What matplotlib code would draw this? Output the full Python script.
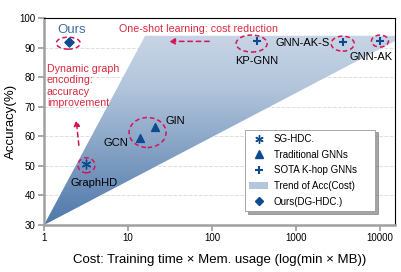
import numpy as np
import matplotlib
matplotlib.use("Agg")
import matplotlib.pyplot as plt
from matplotlib.patches import Ellipse, Polygon, Patch
from matplotlib.lines import Line2D
from matplotlib.colors import LinearSegmentedColormap
import matplotlib.transforms as mtrans

plt.rcParams['font.family'] = ['Liberation Sans', 'DejaVu Sans']

# data
sg_names = ['GraphHD']
sg_x = [3.16]
sg_y = [50.7]
trad_names = ['GCN', 'GIN']
trad_x = [13.9, 21.0]
trad_y = [59.5, 63.3]
sota_names = ['KP-GNN', 'GNN-AK-S', 'GNN-AK']
sota_x = [340, 3600, 10000]
sota_y = [92.2, 92.0, 92.2]
ours_x = [2.0]
ours_y = [92.0]
trend_x = [1, 16, 20000]   # trend triangle corners
trend_y = [30, 94, 94]
xticks = [1, 10, 100, 1000, 10000]
yticks = [30, 40, 50, 60, 70, 80, 90, 100]

blue = '#0d4a8f'
red = '#d4145a'
txtred = '#d9283f'

fig = plt.figure(figsize=(4.02, 2.72), dpi=100)
ax = fig.add_axes([44/402, 47/272, 351/402, 207/272])
ax.set_xscale('log')
ax.set_xlim(1, 15100)
ax.set_ylim(30, 100)
ax.set_xticks(xticks)
ax.set_xticklabels([str(t) for t in xticks])
ax.minorticks_off()
ax.set_yticks(yticks)
ax.tick_params(labelsize=7, color='#999999', length=4, width=1.2, pad=2)
for s in ['left', 'bottom']:
    ax.spines[s].set_color('#a0a0a0')
    ax.spines[s].set_linewidth(1.8)
for s in ['top', 'right']:
    ax.spines[s].set_color('black')
    ax.spines[s].set_linewidth(0.8)
ax.grid(axis='y', ls='--', color='#dddddd', lw=0.7)
ax.set_axisbelow(True)

# gradient trend triangle
tri = Polygon(list(zip(trend_x, trend_y)), closed=True, transform=ax.transData,
              facecolor='none', edgecolor='none')
ax.add_patch(tri)
cmap = LinearSegmentedColormap.from_list('tr', ['#e8eef5', '#b4c6dc', '#4e78aa'])
grad = np.linspace(0, 1, 256).reshape(-1, 1)
im = ax.imshow(grad, cmap=cmap, aspect='auto', extent=[0, 1, 0, 1],
               transform=ax.transAxes, origin='upper', zorder=1,
               vmin=-0.35, vmax=1)
im.set_clip_path(tri)
ax.set_xlim(1, 15100)
ax.set_ylim(30, 100)

ax.scatter(sg_x, sg_y, marker=(6, 2, 0), s=40, color=blue, lw=1.0, zorder=4)
ax.scatter(trad_x, trad_y, marker='^', s=32, color=blue, zorder=4)
ax.scatter(sota_x, sota_y, marker='+', s=40, color=blue, lw=1.5, zorder=4)
ax.scatter(ours_x, ours_y, marker='D', s=22, color=blue, zorder=4)

def ellipse(x, y, dx, dy, w, h):
    tr = fig.dpi_scale_trans + mtrans.ScaledTranslation(x, y, ax.transData)
    e = Ellipse((dx/100, dy/100), w/100, h/100, transform=tr, facecolor='none',
                edgecolor=red, ls=(0, (3, 2)), lw=1.1, zorder=5)
    ax.add_patch(e)

ellipse(ours_x[0], ours_y[0], -1, -1.5, 24, 12)
ellipse(sg_x[0], sg_y[0], 0.5, -1.5, 17, 15)
ellipse(trad_x[1], trad_y[1], -7.5, -6, 37, 30)
ellipse(sota_x[0], sota_y[0], -5, -2.5, 31, 17)
ellipse(sota_x[1], sota_y[1], 0, -2, 23, 15)
ellipse(sota_x[2], sota_y[2], 0, 0, 17, 12)

def label(txt, x, y, dx, dy, ha='center', **kw):
    ax.annotate(txt, (x, y), xytext=(dx, dy), textcoords='offset pixels',
                ha=ha, va='center', fontsize=8, zorder=6, **kw)

label('GraphHD', sg_x[0], sg_y[0], 8, -19)
label('GCN', trad_x[0], trad_y[0], -12, -5, ha='right')
label('GIN', trad_x[1], trad_y[1], 10, 6, ha='left')
label('KP-GNN', sota_x[0], sota_y[0], 0, -20)
label('GNN-AK-S', sota_x[1], sota_y[1], -13, -1, ha='right')
label('GNN-AK', sota_x[2], sota_y[2], -9, -16)
label('Ours', ours_x[0], ours_y[0], 2, 12, color='#3d6ea8')
ax.texts[-1].set_fontsize(9.5)

ax.text(7.8, 96.3, 'One-shot learning: cost reduction', color=txtred,
        fontsize=7.7, ha='left', va='center', zorder=6)
ax.text(1.085, 84.4, 'Dynamic graph\nencoding:\naccuracy\nimprovement',
        color=txtred, fontsize=7.7, ha='left', va='top', linespacing=1.15,
        zorder=6)
ax.annotate('', xy=(28.3, 92.1), xytext=(100, 92.1),
            arrowprops=dict(arrowstyle='-|>', color=red, lw=1.1,
                            ls=(0, (3, 2.5)), mutation_scale=9), zorder=6)
ax.annotate('', xy=(2.4, 66.5), xytext=(2.62, 56),
            arrowprops=dict(arrowstyle='-|>', color=red, lw=1.1,
                            ls=(0, (3, 2.5)), mutation_scale=9), zorder=6)

ax.set_xlabel('Cost: Training time × Mem. usage (log(min × MB))', fontsize=9.5,
              labelpad=8)
ax.set_ylabel('Accuracy(%)', fontsize=9.5, labelpad=2)

handles = [
    Line2D([], [], ls='', marker=(6, 2, 0), ms=6, color=blue, mew=1.0),
    Line2D([], [], ls='', marker='^', ms=5.5, color=blue),
    Line2D([], [], ls='', marker='+', ms=6, color=blue, mew=1.5),
    Patch(facecolor='#b3c6dc', edgecolor='none'),
    Line2D([], [], ls='', marker='D', ms=4.5, color=blue),
]
names = ['SG-HDC.', 'Traditional GNNs', 'SOTA K-hop GNNs', 'Trend of Acc(Cost)',
         'Ours(DG-HDC.)']
leg = ax.legend(handles, names, loc='lower left',
                bbox_to_anchor=(0.5726, 0.068, 0.3704, 0.3), mode='expand',
                borderaxespad=0, fontsize=7, frameon=True, fancybox=False,
                shadow=True, edgecolor='#999999', borderpad=0.45,
                labelspacing=0.58, handlelength=1.9, handletextpad=0.6)
leg.get_frame().set_linewidth(0.6)
leg.set_zorder(7)

fig.savefig('out.png', dpi=100)
